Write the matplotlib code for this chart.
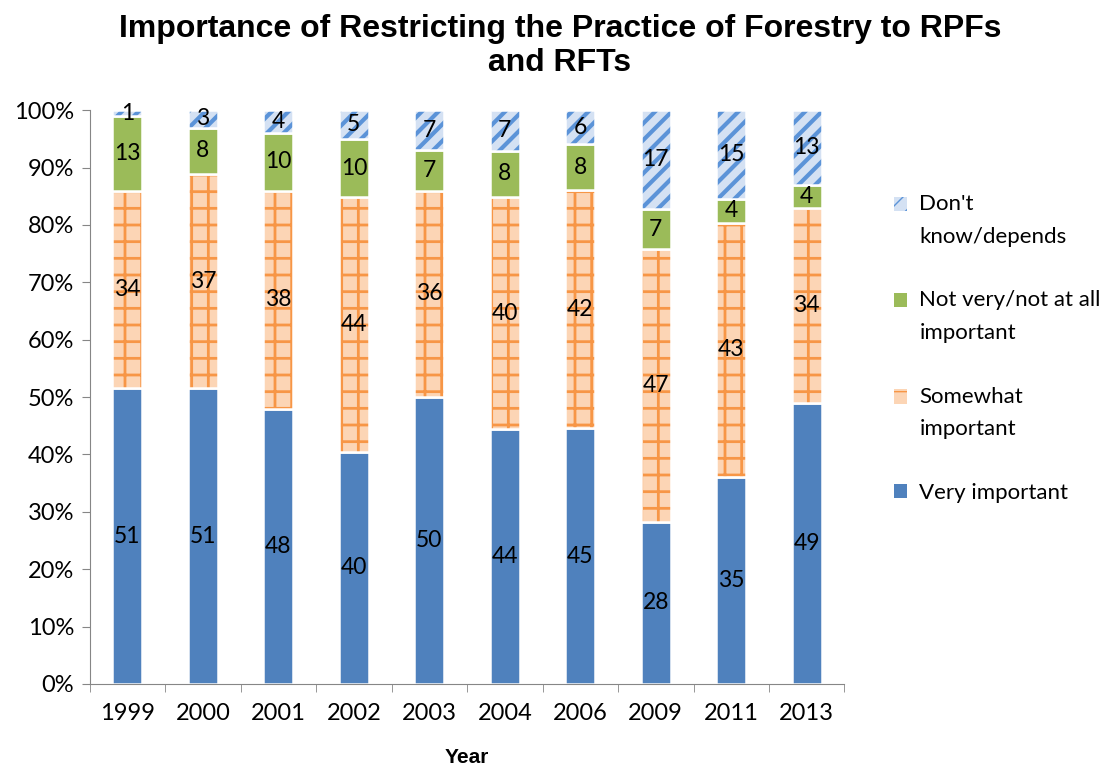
#!/usr/bin/env python3
import numpy as np
import matplotlib
matplotlib.use("Agg")
import matplotlib.pyplot as plt
from matplotlib.ticker import PercentFormatter
from matplotlib.legend_handler import HandlerPatch
from matplotlib.patches import Rectangle

years = ["1999", "2000", "2001", "2002", "2003", "2004", "2006", "2009", "2011", "2013"]
very = [51, 51, 48, 40, 50, 44, 45, 28, 35, 49]
somewhat = [34, 37, 38, 44, 36, 40, 42, 47, 43, 34]
not_very = [13, 8, 10, 10, 7, 8, 8, 7, 4, 4]
dont_know = [1, 3, 4, 5, 7, 7, 6, 17, 15, 13]

# name, values, face colour, hatch colour, hatch, hatch linewidth
series = [
    ("Very important", very, "#4f81bd", "#4f81bd", None, 1.0),
    ("Somewhat\nimportant", somewhat, "#fcd5b5", "#f79646", "+", 2.0),
    ("Not very/not at all\nimportant", not_very, "#9bbb59", "#9bbb59", None, 1.0),
    ("Don't\nknow/depends", dont_know, "#d4e1f3", "#5b93d8", "//", 3.0),
]


def first_line_patch(shift):
    # put the legend square next to the first line of a two-line label
    def make(legend, orig_handle, xdescent, ydescent, width, height, fontsize):
        return Rectangle((-xdescent, -ydescent + shift), width, height)
    return HandlerPatch(patch_func=make)


def main():
    label_font = "Lato"

    fig = plt.figure(figsize=(11.2, 7.71), dpi=100)
    ax = fig.add_axes([0.080, 0.113, 0.674, 0.744])

    x = np.arange(len(years))
    totals = np.sum([s[1] for s in series], axis=0)
    bottom = np.zeros(len(years))
    width = 0.4
    handles = []
    for name, vals, face, hcol, hatch, hlw in series:
        pct = np.array(vals) / totals * 100
        with plt.rc_context({"hatch.linewidth": hlw}):
            b = ax.bar(x, pct, width, bottom=bottom, color=face, edgecolor=hcol,
                       hatch=hatch, linewidth=0, label=name)
        # white outline on top of the hatched fill
        ax.bar(x, pct, width, bottom=bottom, facecolor="none", edgecolor="white", linewidth=1.8)
        handles.append(b.patches[0])
        for xi, yb, h, v in zip(x, bottom, pct, vals):
            ax.text(xi, yb + h / 2, str(v), ha="center", va="center",
                    fontsize=16.5, family=label_font, color="black")
        bottom += pct

    ax.set_xlim(-0.5, len(years) - 0.5)
    ax.set_ylim(0, 100)
    ax.yaxis.set_major_formatter(PercentFormatter(decimals=0))
    ax.set_yticks(np.arange(0, 101, 10))
    ax.set_xticks(x)
    ax.set_xticklabels(years)
    ax.set_xticks(np.arange(-0.5, len(years), 1), minor=True)
    ax.tick_params(axis="x", which="major", length=0, pad=14)
    ax.tick_params(axis="x", which="minor", length=6, color="#868686")
    ax.tick_params(axis="y", length=6, color="#868686", pad=5)
    for lab in ax.get_xticklabels() + ax.get_yticklabels():
        lab.set_fontfamily(label_font)
        lab.set_fontsize(17)
    for side in ["top", "right"]:
        ax.spines[side].set_visible(False)
    for side in ["left", "bottom"]:
        ax.spines[side].set_color("#868686")

    ax.set_xlabel("Year", fontsize=15, fontweight="bold", family="Liberation Sans", labelpad=17)
    fig.suptitle("Importance of Restricting the Practice of Forestry to RPFs\nand RFTs",
                 fontsize=23, fontweight="bold", family="Liberation Sans", y=0.982, linespacing=1.2)

    hmap = {}
    for h, s in zip(handles, series):
        hmap[h] = first_line_patch(12 if "\n" in s[0] else 0)
    fig.legend(handles[::-1], [s[0] for s in series[::-1]], handler_map=hmap,
               loc="upper left", bbox_to_anchor=(0.798, 0.748), frameon=False,
               borderpad=0, borderaxespad=0,
               prop={"family": label_font, "size": 16}, labelspacing=1.95,
               handlelength=0.6, handleheight=0.6, handletextpad=0.55)
    for t in fig.legends[0].get_texts():
        t.set_linespacing(1.8)

    plt.savefig("out.png", dpi=100)


if __name__ == "__main__":
    main()
